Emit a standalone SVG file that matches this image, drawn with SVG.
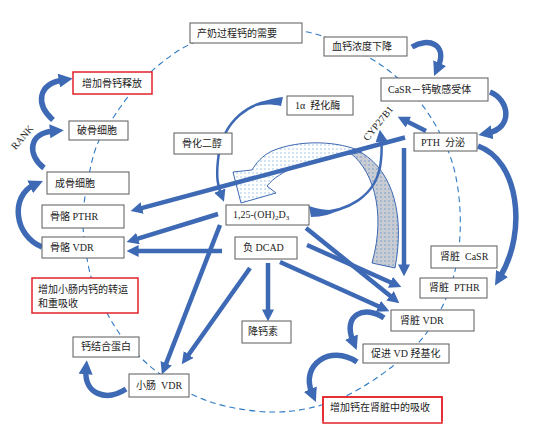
<svg xmlns="http://www.w3.org/2000/svg" width="543" height="432" viewBox="0 0 543 432">
<style>
text{font-family:"Liberation Serif","Noto Sans CJK SC",serif;font-size:10px;fill:#222;white-space:pre}
.sub{font-size:7px}
.node rect{fill:#fff;stroke:#5a5a5a;stroke-width:1}
.node.red rect{stroke:#e3222b;stroke-width:1.5}
.dash{fill:none;stroke:#2f7bc4;stroke-width:1.1;stroke-dasharray:6 4}
.ln{fill:none;stroke:#3e69b4;stroke-width:4.5;marker-end:url(#ah)}
.cv{fill:none;stroke:#3e69b4;stroke-width:5.5;marker-end:url(#ch)}
.thin{fill:none;stroke:#3e69b4;stroke-width:2.5;marker-end:url(#ah)}
.wedge{fill:#3e69b4}
.big{stroke:#3e69b4;stroke-width:1}
</style>
<defs>
<marker id="ah" viewBox="0 0 10 10" markerWidth="12" markerHeight="12" refX="3" refY="5" orient="auto" markerUnits="userSpaceOnUse"><path d="M0,0 L10,5 L0,10 z" fill="#3e69b4"/></marker>
<marker id="ch" viewBox="0 0 10 10" markerWidth="14" markerHeight="14" refX="3" refY="5" orient="auto" markerUnits="userSpaceOnUse"><path d="M0,0 L10,5 L0,10 z" fill="#3e69b4"/></marker>
<pattern id="dotw" width="4" height="4" patternUnits="userSpaceOnUse"><rect width="4" height="4" fill="#fff"/><circle cx="1" cy="1" r="0.7" fill="#86b4e2"/></pattern>
<pattern id="dotg" width="4" height="4" patternUnits="userSpaceOnUse"><rect width="4" height="4" fill="#c9ccd2"/><circle cx="1" cy="1" r="0.7" fill="#5f94cc"/></pattern>
</defs>
<rect width="543" height="432" fill="#fff"/>
<path class="dash" d="M246,28 C263.8,26.2 286.3,28.5 302,31 C317.7,33.5 327.3,37.7 340,43 C352.7,48.3 366.3,55.2 378,63 C389.7,70.8 400.3,79.5 410,90 C419.7,100.5 428.8,113.5 436,126 C443.2,138.5 449,151 453,165 C457,179 459.2,195 460,210 C460.8,225 460.2,240.7 458,255 C455.8,269.3 452.5,282.7 447,296 C441.5,309.3 434,323.3 425,335 C416,346.7 405.5,356.2 393,366 C380.5,375.8 363.8,387 350,394 C336.2,401 323.3,405 310,408 C296.7,411 284.2,412.3 270,412 C255.8,411.7 238.5,409.2 225,406 C211.5,402.8 199.8,398.3 189,393 C178.2,387.7 168.2,380 160,374 C151.8,368 146.3,363.2 140,357 C133.7,350.8 127.5,344.3 122,337 C116.5,329.7 112,322.5 107,313 C102,303.5 95.7,291.3 92,280 C88.3,268.7 86.5,255.8 85,245 C83.5,234.2 82.5,225.8 83,215 C83.5,204.2 85.7,191.7 88,180 C90.3,168.3 92.8,155.3 97,145 C101.2,134.7 107.2,126.8 113,118 C118.8,109.2 124.2,101 132,92 C139.8,83 149.5,72.3 160,64 C170.5,55.7 180.7,48 195,42 C209.3,36 228.2,29.8 246,28 Z"/>
<g id="connectors">
<path class="big" fill="url(#dotg)" d="M346,150 C372,166 387,210 372,263 L395,268 C405,215 393,172 362,153 Z"/>
<path class="big" fill="url(#dotw)" d="M362,152 C340,141 300,139 272,151 C262,156 256,163 252,170 L233,172 L241,203 L276,193 L267,186 C280,170 310,158 352,154 Z"/>
<path class="ln" d="M405,137.5 L138.7,208.9"/>
<path class="ln" d="M404,148 L404,268"/>
<path class="ln" d="M426,131 L405.2,120.6"/>
<path class="ln" d="M306,228 L392.8,298"/>
<path class="ln" d="M307,245 L393.7,283.7"/>
<path class="ln" d="M280,262 L381.7,307.7"/>
<path class="ln" d="M218,214 L134.6,239.6"/>
<path class="ln" d="M222,251 L135,251"/>
<path class="ln" d="M220,225 L164.9,366.6"/>
<path class="ln" d="M250,268 L186.6,357.5"/>
<path class="ln" d="M268,263 L268,313"/>
<path class="cv" d="M412,47 C428,37 448,44 438,67"/>
<path class="cv" d="M490,92 C510,100 513,128 488,133"/>
<path class="cv" d="M478,146 C518,160 528,230 500,277"/>
<path class="thin" d="M282,100 C250,100 222,120 218,160 C216,178 218,186 221,194"/>
<path class="wedge" d="M283,97 L281,106 C272,104 264,104 256,106 C264,101 272,98 283,97 Z"/>
<path class="thin" d="M312,212 C345,214 378,197 381,160 C382,150 382,145 381,138"/>
<path class="wedge" d="M309,206 L311,217 C322,217 332,214 342,209 C332,211 320,210 309,206 Z"/>
<path class="cv" d="M53,120 C35,104 38,84 63,80"/>
<path class="cv" d="M44,168 C27,155 28,133 54,131"/>
<path class="cv" d="M42,247 C14,236 10,196 34,185"/>
<path class="cv" d="M126,389 C106,402 84,394 86,370"/>
<path class="cv" d="M384,318 C365,305 342,314 353,341"/>
<path class="cv" d="M357,362 C330,344 300,365 312,393"/>
<text transform="translate(23,138) rotate(-49)" text-anchor="middle" dominant-baseline="middle" font-size="9">RANK</text>
<text transform="translate(379,124) rotate(-51)" text-anchor="middle" dominant-baseline="middle" font-size="9">CYP27B1</text>
</g>
<g id="n1" class="node"><rect x="190" y="23" width="112" height="20"/><text x="197" y="37">产奶过程钙的需要</text></g>
<g id="n2" class="node"><rect x="324" y="37" width="83" height="19"/><text x="332" y="50">血钙浓度下降</text></g>
<g id="n3" class="node"><rect x="381" y="78" width="107" height="23"/><text x="388" y="93">CaSR－钙敏感受体</text></g>
<g id="n4" class="node"><rect x="287" y="96" width="66" height="19"/><text x="295" y="109" xml:space="preserve">1α  羟化酶</text></g>
<g id="n5" class="node"><rect x="414" y="133" width="63" height="18"/><text x="421" y="146" xml:space="preserve">PTH  分泌</text></g>
<g id="n6" class="node red"><rect x="73" y="72" width="79" height="22"/><text x="82" y="87">增加骨钙释放</text></g>
<g id="n7" class="node"><rect x="69" y="121" width="59" height="19"/><text x="77" y="134">破骨细胞</text></g>
<g id="n8" class="node"><rect x="174" y="133" width="58" height="21"/><text x="182" y="147">骨化二醇</text></g>
<g id="n9" class="node"><rect x="47" y="172" width="82" height="22"/><text x="55" y="187">成骨细胞</text></g>
<g id="n10" class="node"><rect x="42" y="205" width="82" height="23"/><text x="50" y="220">骨骼 PTHR</text></g>
<g id="n11" class="node"><rect x="42" y="237" width="82" height="21"/><text x="50" y="251">骨骼 VDR</text></g>
<g id="n12" class="node red"><rect x="32" y="278" width="106" height="35"/><text x="38" y="293">增加小肠内钙的转运</text><text x="38" y="307">和重吸收</text></g>
<g id="n13" class="node"><rect x="73" y="337" width="66" height="20"/><text x="81" y="350">钙结合蛋白</text></g>
<g id="n14" class="node"><rect x="129" y="374" width="60" height="23"/><text x="136" y="389" xml:space="preserve">小肠  VDR</text></g>
<g id="n15" class="node"><rect x="226" y="205" width="83" height="20"/><text x="233" y="218">1,25-(OH)<tspan class="sub" dy="2">2</tspan><tspan dy="-2">D</tspan><tspan class="sub" dy="2">3</tspan></text></g>
<g id="n16" class="node"><rect x="235" y="237" width="62" height="22"/><text x="243" y="251">负 DCAD</text></g>
<g id="n17" class="node"><rect x="242" y="321" width="49" height="22"/><text x="248" y="335">降钙素</text></g>
<g id="n18" class="node"><rect x="431" y="246" width="66" height="22"/><text x="440" y="260" xml:space="preserve">肾脏  CaSR</text></g>
<g id="n19" class="node"><rect x="420" y="278" width="67" height="20"/><text x="429" y="291" xml:space="preserve">肾脏  PTHR</text></g>
<g id="n20" class="node"><rect x="391" y="310" width="83" height="21"/><text x="400" y="324">肾脏 VDR</text></g>
<g id="n21" class="node"><rect x="363" y="344" width="86" height="19"/><text x="371" y="357">促进 VD 羟基化</text></g>
<g id="n22" class="node red"><rect x="323" y="397" width="119" height="26" fill="#fff" stroke="none"/><path d="M323,421 V397 H442 V421" fill="none" stroke="#e3222b" stroke-width="1.5"/><text x="330" y="411">增加钙在肾脏中的吸收</text></g>
</svg>
